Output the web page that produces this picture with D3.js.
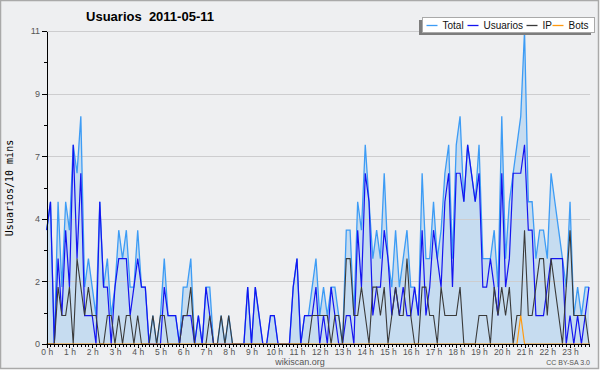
<!DOCTYPE html>
<meta charset="utf-8">
<style>
body { margin: 0; background: #fff; }
svg { display: block; font-family: "Liberation Sans", Arial, sans-serif; }
.grid line { stroke: #cdcdcf; stroke-width: 1px; }
.axis path, .axis line { stroke: #000; shape-rendering: crispEdges; }
.axis text { fill: #555; }
.area_total { fill: #c6dcf0; stroke: none; }
.linha_total { fill: none; stroke: #3d9cf5; stroke-width: 1.3px; }
.linha_usuarios { fill: none; stroke: #1414f0; stroke-width: 1.2px; }
.linha_ip { fill: none; stroke: #3a3a3a; stroke-width: 1.1px; }
.linha_bots { fill: none; stroke: #ff9a10; stroke-width: 1.2px; }
</style>
<body>
<script src="https://cdn.jsdelivr.net/npm/d3@7/dist/d3.min.js"></script>
<script>

// users per 10 minutes, 144 slots from 0:00 to 23:50
var total = [4,5,0,5,2,5,4,7,6,8, 2,3,2,1,5,2,3,1,2,4, 3,4,2,2,4,2,2,0,1,0,
             1,3,1,1,1,0,2,2,3,0, 1,0,2,2,0,0,1,0,1,0, 0,0,0,2,0,2,1,0,0,1,
             1,0,0,0,0,2,3,0,1,1, 2,3,1,2,1,2,2,1,0,4, 4,1,5,4,7,5,3,4,3,6,
             3,2,4,2,3,4,2,2,1,6, 3,3,5,3,4,6,7,3,7,8, 5,7,6,5,7,3,3,3,4,2,
             8,3,5,6,7,8,11,5,5,3, 4,4,3,6,5,4,3,2,5,1, 2,1,2,2];
var usuarios = [4,5,0,3,1,4,2,7,3,6, 1,1,1,0,5,2,2,0,2,3, 3,3,1,2,3,2,2,0,0,0,
                0,2,1,1,1,0,1,1,1,0, 1,0,2,1,0,0,0,0,0,0, 0,0,0,2,0,2,1,0,0,1,
                1,0,0,0,0,2,3,0,1,1, 1,2,0,1,0,2,1,0,0,1, 1,0,4,2,6,5,1,2,2,4,
                3,1,2,1,2,1,1,2,1,4, 1,2,4,3,2,5,6,2,6,6, 5,7,6,5,6,2,2,3,2,1,
                6,2,3,6,6,6,7,4,4,1, 1,1,2,3,3,3,3,0,1,0, 1,0,1,2];
var ip = [0,0,0,2,1,1,2,0,3,2, 1,2,1,1,0,0,1,1,0,1, 0,1,1,0,1,0,0,0,1,0,
          1,1,0,0,0,0,1,1,2,0, 0,0,0,1,0,0,1,0,1,0, 0,0,0,0,0,0,0,0,0,0,
          0,0,0,0,0,0,0,0,0,0, 1,1,1,1,1,0,1,1,0,3, 3,1,1,2,1,0,2,2,1,2,
          0,1,2,1,1,3,1,0,0,2, 2,1,1,0,2,1,1,1,1,2, 0,0,0,0,1,1,1,0,2,1,
          2,1,2,0,1,1,4,1,1,2, 3,3,1,3,2,1,0,2,4,1, 1,1,1,0];
var bots = [0,0,0,0,0,0,0,0,0,0, 0,0,0,0,0,0,0,0,0,0, 0,0,0,0,0,0,0,0,0,0,
            0,0,0,0,0,0,0,0,0,0, 0,0,0,0,0,0,0,0,0,0, 0,0,0,0,0,0,0,0,0,0,
            0,0,0,0,0,0,0,0,0,0, 0,0,0,0,0,0,0,0,0,0, 0,0,0,0,0,0,0,0,0,0,
            0,0,0,0,0,0,0,0,0,0, 0,0,0,0,0,0,0,0,0,0, 0,0,0,0,0,0,0,0,0,0,
            0,0,0,0,0,1,0,0,0,0, 0,0,0,0,0,0,0,0,0,0, 0,0,0,0];

var hourLabels = ["0 h","1 h","2 h","3 h","4 h","5 h","6 h","7 h","8 h","9 h","10 h","11 h",
                  "12 h","13 h","14 h","15 h","16 h","17 h","18 h","19 h","20 h","21 h","22 h","23 h"];
var yTicks = [0, 2.2, 4.4, 6.6, 8.8, 11];
var yMinorTicks = [1.1, 3.3, 5.5, 7.7, 9.9];
var legendNames = ["Total", "Usuarios", "IP", "Bots"];

var W = 600, H = 370;
var pLeft = 46.7, pRight = 589, pTop = 31, pBottom = 344;

var x = d3.scaleLinear().domain([0, total.length - 1]).range([pLeft, pRight]);
var y = d3.scaleLinear().domain([0, 11]).range([pBottom, pTop]);

var svg = d3.select("body").append("svg")
    .attr("width", W)
    .attr("height", H);

// background + frame
svg.append("rect")
    .attr("x", 0.5).attr("y", 0.5)
    .attr("width", W - 2).attr("height", H - 2)
    .style("fill", "#eeeff1")
    .style("stroke", "#a9a9a9")
    .style("stroke-width", 1.5);

// area under total
var area = d3.area()
    .x(function(d, i) { return x(i); })
    .y0(y(0))
    .y1(function(d) { return y(d); });

svg.append("path")
    .attr("class", "area_total")
    .attr("d", area(total));

// grid
svg.append("g")
    .attr("class", "grid")
  .selectAll("line")
  .data(yTicks.slice(1))
  .enter().append("line")
    .attr("x1", pLeft).attr("x2", pRight + 1)
    .attr("y1", function(d) { return Math.round(y(d)) + 0.5; })
    .attr("y2", function(d) { return Math.round(y(d)) + 0.5; });

// lines
function linha(arr) {
  return d3.line()
    .x(function(d, i) { return x(i); })
    .y(function(d) { return y(d); })(arr);
}
svg.append("path").attr("class", "linha_total").attr("d", linha(total));
svg.append("path").attr("class", "linha_usuarios").attr("d", linha(usuarios));
svg.append("path").attr("class", "linha_ip").attr("d", linha(ip));
svg.append("path").attr("class", "linha_bots").attr("d", linha(bots));

// Y axis
var yAxis = d3.axisLeft(y)
    .tickValues(yTicks)
    .tickSize(5)
    .tickPadding(2)
    .tickSizeOuter(0)
    .tickFormat(function(d) { return Math.round(d); });
var gy = svg.append("g")
    .attr("class", "axis")
    .attr("transform", "translate(" + Math.round(pLeft) + ",0)")
    .call(yAxis);
gy.selectAll("text").style("font-size", "9px");
svg.append("g")
    .attr("class", "axis")
    .attr("transform", "translate(" + Math.round(pLeft) + ",0)")
    .call(d3.axisLeft(y).tickValues(yMinorTicks).tickSize(3).tickFormat(""))
    .select(".domain").remove();

// X axis: ticks every 10 minutes, labels every hour
var gx = svg.append("g")
    .attr("class", "axis")
    .attr("transform", "translate(0," + pBottom + ")")
    .call(d3.axisBottom(x).tickValues(d3.range(0, total.length)).tickSize(3).tickFormat("").tickSizeOuter(0));
gx.select(".domain").attr("d", "M" + Math.round(pLeft) + ",0.5H" + (pRight + 1));

var gh = svg.append("g")
    .attr("class", "axis")
    .attr("transform", "translate(0," + pBottom + ")")
    .call(d3.axisBottom(x)
      .tickValues(hourLabels.map(function(d, i) { return i * 6; }))
      .tickSize(4)
      .tickPadding(1)
      .tickFormat(function(d, i) { return hourLabels[i]; }));
gh.select(".domain").remove();
gh.selectAll("text").style("font-size", "8.5px");

// titles
svg.append("text")
    .attr("x", 150).attr("y", 21)
    .attr("text-anchor", "middle")
    .style("white-space", "pre")
    .style("font-weight", "bold")
    .style("font-size", "13px")
    .style("fill", "#000")
    .text("Usuarios  2011-05-11");

svg.append("text")
    .attr("transform", "translate(13,188) rotate(-90)")
    .attr("text-anchor", "middle")
    .style("font-family", "'DejaVu Sans Mono', monospace")
    .style("font-size", "10px")
    .style("fill", "#000")
    .text("Usuarios/10 mins");

svg.append("text")
    .attr("x", 300).attr("y", 365)
    .attr("text-anchor", "middle")
    .style("font-size", "9px")
    .style("fill", "#555")
    .text("wikiscan.org");

svg.append("text")
    .attr("x", 590).attr("y", 365)
    .attr("text-anchor", "end")
    .style("font-size", "7px")
    .style("fill", "#555")
    .text("CC BY-SA 3.0");

// legend
var legendColors = ["#3d9cf5", "#1414f0", "#3a3a3a", "#ff9a10"];
var lx = 422, ly = 17, lw = 172, lh = 15;
svg.append("rect")
    .attr("x", lx - 3).attr("y", ly + 3)
    .attr("width", lw).attr("height", lh)
    .style("fill", "#7d7d7d");
svg.append("rect")
    .attr("x", lx + 0.5).attr("y", ly + 0.5)
    .attr("width", lw).attr("height", lh)
    .style("fill", "#fff")
    .style("stroke", "#a9a9a9");

var lxs = [426.5, 467.5, 526.5, 552.5];
var lg = svg.append("g").selectAll("g")
    .data(legendNames)
  .enter().append("g")
    .attr("transform", function(d, i) { return "translate(" + lxs[i] + "," + (ly + 8) + ")"; });
lg.append("line")
    .attr("x1", 0).attr("x2", 11)
    .attr("y1", 0.5).attr("y2", 0.5)
    .style("stroke", function(d, i) { return legendColors[i]; })
    .style("stroke-width", 1.3);
lg.append("text")
    .attr("x", 16).attr("y", 4)
    .style("font-size", "10px")
    .style("fill", "#111")
    .text(function(d) { return d; });

</script>
</body>
